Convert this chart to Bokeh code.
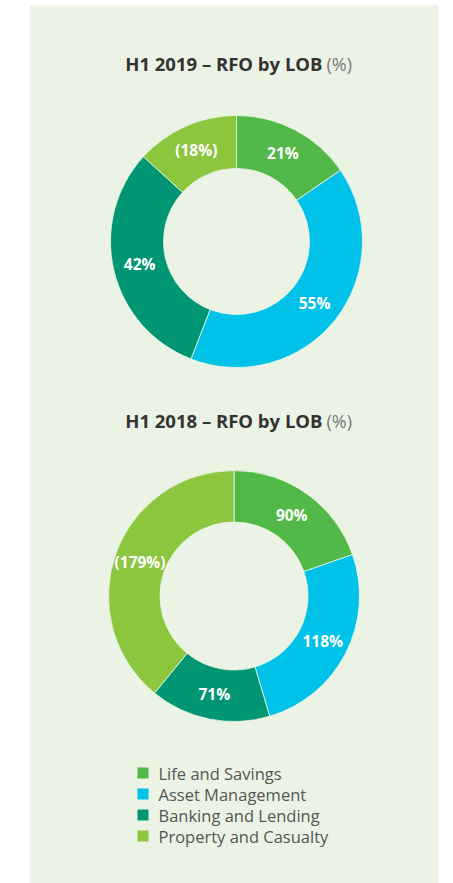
import numpy as np
from bokeh.plotting import figure
from bokeh.models import Range1d, ColumnDataSource
from bokeh.core.properties import value
from bokeh.embed import file_html
from bokeh.resources import INLINE

# ---- data ----
categories = ["Life and Savings", "Asset Management", "Banking and Lending", "Property and Casualty"]
colors = ["#52b848", "#00c1e8", "#009673", "#8cc63f"]
values_2019 = [21, 55, 42, -18]
values_2018 = [90, 118, 71, -179]
titles = ["H1 2019 \u2013 RFO by LOB", "H1 2018 \u2013 RFO by LOB"]

W, H = 453, 883
p = figure(width=W, height=H, output_backend="svg", toolbar_location=None,
           x_range=Range1d(0, W), y_range=Range1d(-H, 0),
           min_border=0)
p.axis.visible = False
p.grid.visible = False
p.outline_line_color = None
p.background_fill_color = "white"
p.border_fill_color = "white"

# panel
p.quad(left=[29], right=[438], bottom=[-H], top=[-5], fill_color="#ebf4e4", line_color=None)

FONT = value("Open Sans")


def fmt(v):
    return f"({abs(v)}%)" if v < 0 else f"{v}%"


def donut(vals, cx, cy, r_in, r_out, title, ty):
    a = np.abs(np.array(vals, dtype=float))
    frac = a / a.sum()
    cum = np.concatenate([[0], np.cumsum(frac)])
    start = np.pi / 2 - cum[:-1] * 2 * np.pi
    end = np.pi / 2 - cum[1:] * 2 * np.pi
    src = ColumnDataSource(dict(start=start, end=end, color=colors))
    p.annular_wedge(x=cx, y=-cy, inner_radius=r_in, outer_radius=r_out,
                    start_angle="start", end_angle="end", direction="clock",
                    fill_color="color", line_color="#eef6e8", line_width=0.8, source=src)
    mid = np.pi / 2 - (cum[:-1] + cum[1:]) / 2 * 2 * np.pi
    lr = (r_in + r_out) / 2
    lx = cx + lr * np.cos(mid)
    ly = -cy + lr * np.sin(mid)
    p.text(x=lx, y=ly, text=[fmt(v) for v in vals], text_color="white",
           text_font=FONT, text_font_style="bold", text_font_size="15.5px",
           text_align="center", text_baseline="middle")
    # title
    p.text(x=[322], y=[-ty], text=[title], text_color="#333333", text_font=FONT,
           text_font_style="bold", text_font_size="18.5px", text_align="right",
           text_baseline="middle")
    p.text(x=[326], y=[-ty], text=["(%)"], text_color="#7a7a7a", text_font=FONT,
           text_font_size="18px", text_align="left", text_baseline="middle")


donut(values_2019, 236, 241, 73, 126, titles[0], 63)
donut(values_2018, 233.5, 595.5, 74, 125.5, titles[1], 420)

# legend
ly0 = 772.5
step = 21
lys = [-(ly0 + i * step) for i in range(len(categories))]
p.scatter(x=[142.5] * len(categories), y=lys, marker="square", size=11,
          fill_color=colors, line_color=None)
p.text(x=[158] * len(categories), y=lys, text=categories, text_color="#555555",
       text_font=FONT, text_font_size="16.5px", text_align="left", text_baseline="middle")

open("out.html", "w").write(file_html(p, INLINE))
